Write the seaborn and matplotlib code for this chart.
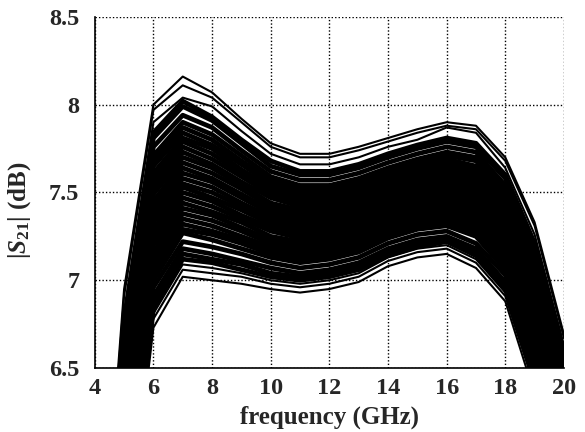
import matplotlib
matplotlib.use("Agg")
import matplotlib.pyplot as plt
import seaborn as sns
import pandas as pd

freq = [4, 5, 6, 7, 8, 9, 10, 11, 12, 13, 14, 15, 16, 17, 18, 19, 20]

c01 = [4.75, 6.95, 8.00, 8.16, 8.07, 7.92, 7.78, 7.72, 7.72, 7.76, 7.81, 7.86, 7.90, 7.88, 7.70, 7.33, 6.69]
c02 = [4.71, 6.91, 7.97, 8.11, 8.04, 7.90, 7.76, 7.70, 7.70, 7.74, 7.79, 7.84, 7.88, 7.86, 7.68, 7.31, 6.67]
c03 = [4.63, 6.83, 7.90, 8.04, 7.99, 7.85, 7.72, 7.66, 7.66, 7.70, 7.76, 7.80, 7.87, 7.84, 7.64, 7.26, 6.63]
c04 = [4.54, 6.74, 7.84, 8.02, 7.93, 7.80, 7.68, 7.62, 7.62, 7.66, 7.72, 7.77, 7.81, 7.78, 7.60, 7.21, 6.59]
c05 = [4.50, 6.70, 7.81, 7.99, 7.91, 7.78, 7.65, 7.60, 7.60, 7.64, 7.70, 7.75, 7.79, 7.76, 7.58, 7.18, 6.57]
c06 = [4.44, 6.64, 7.76, 7.94, 7.87, 7.74, 7.62, 7.57, 7.57, 7.61, 7.67, 7.72, 7.76, 7.73, 7.54, 7.14, 6.54]
c07 = [4.37, 6.57, 7.71, 7.90, 7.83, 7.71, 7.59, 7.54, 7.54, 7.58, 7.64, 7.69, 7.73, 7.70, 7.51, 7.11, 6.51]
c08 = [4.33, 6.53, 7.68, 7.87, 7.80, 7.68, 7.57, 7.52, 7.52, 7.56, 7.63, 7.68, 7.71, 7.68, 7.49, 7.08, 6.49]
c09 = [4.29, 6.49, 7.65, 7.84, 7.77, 7.66, 7.55, 7.50, 7.51, 7.55, 7.61, 7.66, 7.69, 7.65, 7.47, 7.06, 6.47]
c10 = [4.25, 6.45, 7.61, 7.81, 7.75, 7.63, 7.53, 7.48, 7.49, 7.53, 7.59, 7.64, 7.67, 7.63, 7.45, 7.03, 6.45]
c11 = [4.21, 6.41, 7.58, 7.79, 7.72, 7.61, 7.51, 7.46, 7.47, 7.51, 7.57, 7.62, 7.65, 7.61, 7.43, 7.01, 6.43]
c12 = [4.17, 6.37, 7.55, 7.76, 7.69, 7.59, 7.49, 7.44, 7.45, 7.49, 7.55, 7.60, 7.63, 7.59, 7.41, 6.98, 6.41]
c13 = [4.12, 6.32, 7.52, 7.73, 7.66, 7.56, 7.47, 7.42, 7.43, 7.47, 7.53, 7.58, 7.62, 7.57, 7.39, 6.96, 6.39]
c14 = [4.08, 6.28, 7.49, 7.70, 7.64, 7.54, 7.44, 7.40, 7.41, 7.45, 7.51, 7.56, 7.60, 7.55, 7.37, 6.93, 6.37]
c15 = [4.04, 6.24, 7.45, 7.67, 7.61, 7.52, 7.42, 7.38, 7.39, 7.43, 7.50, 7.55, 7.58, 7.53, 7.35, 6.91, 6.35]
c16 = [4.00, 6.20, 7.42, 7.64, 7.58, 7.49, 7.40, 7.36, 7.37, 7.41, 7.48, 7.53, 7.56, 7.51, 7.33, 6.88, 6.33]
c17 = [3.96, 6.16, 7.39, 7.61, 7.56, 7.47, 7.38, 7.34, 7.35, 7.39, 7.46, 7.51, 7.54, 7.49, 7.31, 6.86, 6.31]
c18 = [3.92, 6.12, 7.36, 7.58, 7.53, 7.44, 7.36, 7.32, 7.33, 7.37, 7.44, 7.49, 7.52, 7.47, 7.28, 6.83, 6.29]
c19 = [3.87, 6.07, 7.33, 7.55, 7.50, 7.42, 7.34, 7.30, 7.31, 7.35, 7.42, 7.47, 7.50, 7.45, 7.26, 6.81, 6.27]
c20 = [3.83, 6.03, 7.29, 7.53, 7.47, 7.40, 7.32, 7.28, 7.29, 7.33, 7.40, 7.45, 7.48, 7.43, 7.24, 6.78, 6.25]
c21 = [3.79, 5.99, 7.26, 7.50, 7.45, 7.37, 7.30, 7.26, 7.27, 7.31, 7.39, 7.44, 7.46, 7.41, 7.22, 6.76, 6.23]
c22 = [3.75, 5.95, 7.23, 7.47, 7.42, 7.35, 7.28, 7.24, 7.25, 7.29, 7.37, 7.42, 7.44, 7.39, 7.20, 6.73, 6.21]
c23 = [3.71, 5.91, 7.20, 7.44, 7.39, 7.33, 7.25, 7.22, 7.23, 7.27, 7.35, 7.40, 7.43, 7.37, 7.18, 6.71, 6.19]
c24 = [3.66, 5.86, 7.16, 7.41, 7.37, 7.30, 7.23, 7.20, 7.21, 7.25, 7.33, 7.38, 7.41, 7.35, 7.16, 6.69, 6.17]
c25 = [3.62, 5.82, 7.13, 7.38, 7.34, 7.28, 7.21, 7.18, 7.19, 7.23, 7.31, 7.36, 7.39, 7.33, 7.14, 6.66, 6.15]
c26 = [3.58, 5.78, 7.10, 7.35, 7.31, 7.25, 7.19, 7.16, 7.17, 7.21, 7.29, 7.34, 7.37, 7.31, 7.12, 6.64, 6.13]
c27 = [3.54, 5.74, 7.07, 7.32, 7.28, 7.23, 7.17, 7.14, 7.15, 7.19, 7.27, 7.32, 7.35, 7.29, 7.10, 6.61, 6.11]
c28 = [3.50, 5.70, 7.04, 7.29, 7.26, 7.21, 7.15, 7.12, 7.14, 7.18, 7.26, 7.31, 7.33, 7.27, 7.08, 6.59, 6.09]
c29 = [3.46, 5.66, 7.00, 7.27, 7.23, 7.18, 7.13, 7.10, 7.12, 7.16, 7.24, 7.29, 7.31, 7.25, 7.06, 6.56, 6.07]
c30 = [3.39, 5.59, 6.96, 7.22, 7.19, 7.15, 7.10, 7.07, 7.09, 7.13, 7.21, 7.26, 7.28, 7.21, 7.03, 6.52, 6.04]
c31 = [3.33, 5.53, 6.91, 7.18, 7.15, 7.11, 7.07, 7.04, 7.06, 7.10, 7.18, 7.23, 7.25, 7.18, 6.99, 6.49, 6.01]
c32 = [3.29, 5.49, 6.88, 7.15, 7.12, 7.09, 7.04, 7.02, 7.04, 7.08, 7.16, 7.21, 7.24, 7.16, 6.97, 6.46, 5.99]
c33 = [3.25, 5.45, 6.84, 7.12, 7.10, 7.06, 7.02, 7.00, 7.02, 7.06, 7.14, 7.19, 7.22, 7.14, 6.95, 6.44, 5.97]
c34 = [3.20, 5.40, 6.81, 7.09, 7.07, 7.04, 7.00, 6.98, 7.00, 7.04, 7.13, 7.18, 7.20, 7.12, 6.93, 6.41, 5.95]
c35 = [3.16, 5.36, 6.78, 7.06, 7.04, 7.02, 6.98, 6.96, 6.98, 7.02, 7.11, 7.16, 7.18, 7.10, 6.91, 6.39, 5.93]
c36 = [3.10, 5.30, 6.73, 7.02, 7.00, 6.98, 6.95, 6.93, 6.95, 6.99, 7.08, 7.13, 7.15, 7.07, 6.88, 6.35, 5.90]

curves = [c01, c02, c03, c04, c05, c06, c07, c08, c09, c10, c11, c12,
          c13, c14, c15, c16, c17, c18, c19, c20, c21, c22, c23, c24,
          c25, c26, c27, c28, c29, c30, c31, c32, c33, c34, c35, c36]

xticks = [4, 6, 8, 10, 12, 14, 16, 18, 20]
yticks = [6.5, 7, 7.5, 8, 8.5]
ytick_labels = ["6.5", "7", "7.5", "8", "8.5"]

rows = []
for i, c in enumerate(curves):
    for f, v in zip(freq, c):
        rows.append({"freq": f, "s21": v, "curve": i})
df = pd.DataFrame(rows)
n = len(curves)
edge_ids = {0, 1, 2, n - 3, n - 2, n - 1}
df_edge = df[df["curve"].isin(edge_ids)]
df_inner = df[~df["curve"].isin(edge_ids)]

sns.set_style("white")
plt.rcParams["font.family"] = ["Liberation Serif", "DejaVu Serif"]
plt.rcParams["font.weight"] = "bold"
plt.rcParams["mathtext.fontset"] = "custom"
plt.rcParams["mathtext.rm"] = "Liberation Serif:bold"
plt.rcParams["mathtext.it"] = "Liberation Serif:italic:bold"

fig = plt.figure(figsize=(5.85, 4.32), dpi=100)
ax = fig.add_axes([0.162, 0.148, 0.802, 0.813])

sns.lineplot(data=df_inner, x="freq", y="s21", units="curve", estimator=None,
             color="black", lw=3.4, ax=ax, legend=False)
sns.lineplot(data=df_edge, x="freq", y="s21", units="curve", estimator=None,
             color="black", lw=1.5, ax=ax, legend=False)

ax.set_xlim(4, 20)
ax.set_ylim(6.5, 8.5)
ax.set_xticks(xticks)
ax.set_xticklabels([str(t) for t in xticks])
ax.set_yticks(yticks)
ax.set_yticklabels(ytick_labels)
ax.tick_params(axis="y", length=0, labelsize=17.5, pad=11)
ax.tick_params(axis="x", length=0, labelsize=17.5, pad=7)
for lab in ax.get_xticklabels() + ax.get_yticklabels():
    lab.set_fontweight("bold")

ax.set_axisbelow(True)
ax.grid(True, color="black", linestyle=(0, (1, 1.5)), lw=1.0)
for s in ["top", "right"]:
    ax.spines[s].set_visible(False)
for s in ["left", "bottom"]:
    ax.spines[s].set_color("black")
    ax.spines[s].set_linewidth(1.2)

ax.set_xlabel("frequency (GHz)", fontsize=18, fontweight="bold", labelpad=5)
ax.set_ylabel(r"$|S_{21}|$ (dB)", fontsize=18, fontweight="bold")
ax.yaxis.set_label_coords(-0.132, 0.45)

fig.savefig("out.png", dpi=100)
